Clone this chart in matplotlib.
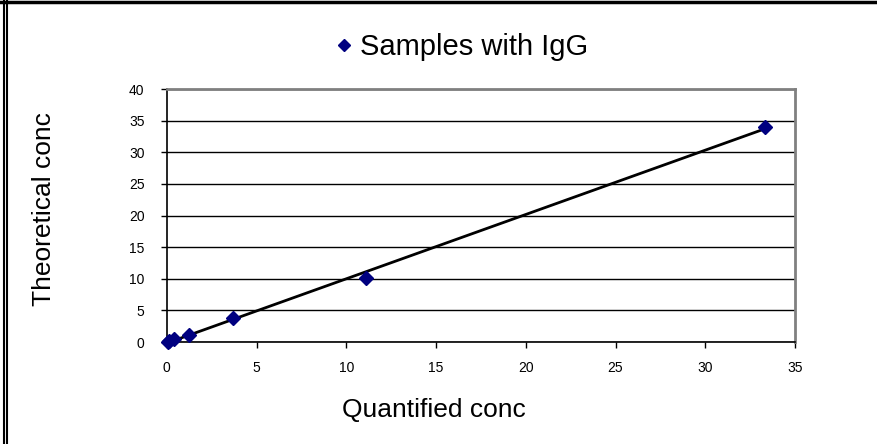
import numpy as np
import matplotlib
matplotlib.use("Agg")
import matplotlib.pyplot as plt
from matplotlib.lines import Line2D

quantified = [33.3, 11.1, 3.7, 1.23, 0.41, 0.14, 0.05]
theoretical = [34.0, 10.1, 3.8, 1.1, 0.4, 0.12, 0.05]
series_name = "Samples with IgG"
x_ticks = [0, 5, 10, 15, 20, 25, 30, 35]
y_ticks = [0, 5, 10, 15, 20, 25, 30, 35, 40]

plt.rcParams['font.family'] = ['Liberation Sans', 'DejaVu Sans']

fig = plt.figure(figsize=(8.78, 4.44), dpi=100)
ax = fig.add_axes([0.190, 0.2297, 0.9055 - 0.190, 0.7995 - 0.2297])

ax.set_xlim(0, 35)
ax.set_ylim(0, 40)
ax.set_xticks(x_ticks)
ax.set_yticks(y_ticks)
ax.tick_params(labelsize=10, length=4, width=1, color='black')
ax.tick_params(axis='y', pad=12)
ax.tick_params(axis='x', pad=10)
ax.yaxis.grid(True, color='black', linewidth=1)
ax.set_axisbelow(True)

for s in ['top', 'right']:
    ax.spines[s].set_color('#808080')
    ax.spines[s].set_linewidth(2)
for s in ['left', 'bottom']:
    ax.spines[s].set_color('black')
    ax.spines[s].set_linewidth(1.2)

# linear trend line through the data
coef = np.polyfit(quantified, theoretical, 1)
xs = np.array([min(quantified), max(quantified)])
ax.plot(xs, np.polyval(coef, xs), color='black', linewidth=2, zorder=2)

ax.plot(quantified, theoretical, linestyle='none', marker='D', markersize=7,
        color='#000080', markeredgecolor='#000080', label=series_name, zorder=3, clip_on=False)

fig.text(434 / 878, 1 - 410 / 444, "Quantified conc", fontsize=19, ha='center', va='center')
fig.text(44 / 878, 1 - 209 / 444, "Theoretical conc", fontsize=19, ha='center', va='center',
         rotation=90)

leg = fig.legend(loc='center', bbox_to_anchor=(460 / 878, 1 - 47 / 444), frameon=False,
                 fontsize=21, handletextpad=0.15, markerscale=0.9, handlelength=0.8)

# figure border
fig.add_artist(Line2D([0, 1], [0.995, 0.995], transform=fig.transFigure, color='black', linewidth=2.5))
fig.add_artist(Line2D([0.005, 0.005], [0, 1], transform=fig.transFigure, color='black', linewidth=1.5))
fig.add_artist(Line2D([0.0085, 0.0085], [0, 1], transform=fig.transFigure, color='black', linewidth=1.5))

fig.savefig("out.png", dpi=100)
